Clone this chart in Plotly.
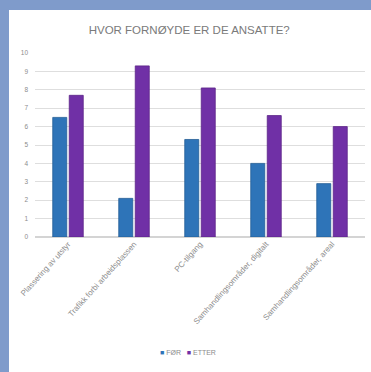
import plotly.graph_objects as go

# Survey results: satisfaction before and after, scale 0-10
categories = [
    "Plassering av utstyr",
    "Trafikk forbi arbeidsplassen",
    "PC-tilgang",
    "Samhandlingsområder, digitalt",
    "Samhandlingsområder, areal",
]
series_names = ["FØR", "ETTER"]
for_values = [6.5, 2.1, 5.3, 4.0, 2.9]
etter_values = [7.7, 9.3, 8.1, 6.6, 6.0]
y_ticks = list(range(0, 11))

W, H = 371, 372
L, R, T, B = 35, 6, 53, 135
pw, ph = W - L - R, H - T - B


def px_x(p):
    return (p - L) / pw


def px_y(p):
    return (H - B - p) / ph


colors = ["#2e74b8", "#7030a6"]
edges = ["#245e96", "#5c2488"]

fig = go.Figure()
for name, vals, c, e in zip(series_names, [for_values, etter_values], colors, edges):
    fig.add_trace(go.Bar(
        name=name, x=categories, y=vals, showlegend=False,
        marker=dict(color=c, line=dict(color=e, width=0.8)),
    ))

# compact legend line below the axis labels
legend_text = "&nbsp;&nbsp;&nbsp;".join(
    f"<span style='color:{c}'>■</span>&nbsp;{n}" for n, c in zip(series_names, colors)
)

grey = "#8c8c8c"
fig.update_layout(
    width=W, height=H,
    margin=dict(l=L, r=R, t=T, b=B, autoexpand=False),
    paper_bgcolor="#7f9bcb",
    plot_bgcolor="rgba(0,0,0,0)",
    barmode="group", bargap=0.5, bargroupgap=0.15,
    font=dict(family="Liberation Sans, Arial, sans-serif", color=grey),
    title=dict(text="HVOR FORNØYDE ER DE ANSATTE?", x=0.51, xanchor="center",
               y=1 - 30 / H, yanchor="middle",
               font=dict(size=11.5, color="#7a7a7a")),
    xaxis=dict(tickangle=-48, tickfont=dict(size=8, color=grey),
               showgrid=False, showline=False, ticks=""),
    yaxis=dict(range=[0, 10], tickvals=y_ticks, tickfont=dict(size=6.5, color=grey),
               gridcolor="#dedede", gridwidth=1, zeroline=True,
               zerolinecolor="#d4d4d4", showline=False, ticks="", ticklabelstandoff=6),
    showlegend=False,
    annotations=[dict(text=legend_text, xref="paper", yref="paper",
                      x=px_x(188), y=px_y(352), xanchor="center", yanchor="middle",
                      showarrow=False, font=dict(size=7, color=grey))],
    shapes=[dict(type="rect", xref="paper", yref="paper", layer="below",
                 x0=px_x(9), x1=px_x(W + 5), y0=px_y(10), y1=px_y(H + 5),
                 fillcolor="#ffffff", line=dict(width=0))],
)

fig.write_html("out.html")
